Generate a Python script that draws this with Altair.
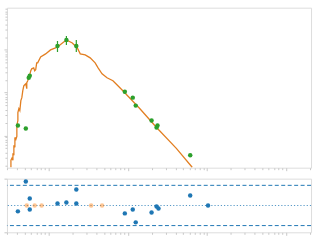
import altair as alt
import pandas as pd

# model curve (x: time, log; y: flux, log)
curve_x = [0.335, 0.335, 0.345, 0.355, 0.355, 0.365, 0.365, 0.376, 0.376, 0.387, 0.398, 0.398,
           0.41, 0.41, 0.422, 0.434, 0.447, 0.46, 0.473, 0.487, 0.501, 0.516, 0.531, 0.531,
           0.546, 0.562, 0.579, 0.596, 0.613, 0.649, 0.668, 0.688, 0.708, 0.729, 0.794, 0.917,
           1.059, 1.223, 1.296, 1.496, 1.679, 1.995, 2.304, 2.512, 2.9, 3.35, 3.87, 4.217,
           4.732, 5.464, 6.494, 7.29, 8.66, 14.13, 23.05, 40.97, 64.9]
curve_y = [0.18, 0.262, 0.292, 0.262, 0.381, 0.343, 0.585, 0.526, 0.898, 0.807, 0.948, 1.71,
           2.23, 3.43, 4.25, 3.81, 6.51, 7.65, 11.1, 14.5, 15.35, 16.2, 12.4, 17.1,
           19.0, 22.3, 26.2, 32.5, 36.1, 38.1, 32.5, 34.3, 49.9, 49.9, 68.7, 80.7,
           100.0, 111.3, 117.4, 145.5, 170.9, 145.5, 111.3, 80.7, 76.5, 65.2, 49.9, 38.1,
           27.7, 22.3, 19.0, 15.35, 11.1, 4.25, 1.535, 0.499, 0.18]

# observations
obs_x = [0.41, 0.516, 0.562, 0.579, 1.296, 1.679, 2.239, 9.17, 11.55, 12.59, 19.95, 23.05, 23.71, 61.3]
obs_y = [1.71, 1.455, 22.3, 24.9, 123.9, 170.9, 123.9, 10.55, 7.65, 4.98, 2.23, 1.535, 1.71, 0.343]
obs_lo = [1.65, 1.40, 20.8, 23.2, 89.8, 130.7, 89.8, 10.1, 7.3, 4.75, 2.12, 1.46, 1.63, 0.325]
obs_hi = [1.78, 1.51, 24.0, 26.7, 161.9, 211.6, 170.9, 11.0, 8.0, 5.2, 2.35, 1.61, 1.80, 0.362]

# residuals
res_x = [0.41, 0.516, 0.579, 0.579, 1.296, 1.679, 2.239, 2.239, 9.17, 11.55, 12.59, 19.95,
         23.05, 24.4, 61.3, 102.9]
res_y = [-0.44, 1.78, 0.52, -0.30, 0.15, 0.22, 1.19, 0.15, -0.59, -0.30, -1.26, -0.52,
         -0.07, -0.22, 0.74, 0.0]
lim_x = [0.531, 0.668, 0.818, 3.447, 4.732]
lim_y = [0.0, 0.0, 0.0, 0.0, 0.0]

band_lines = [-1.5, 1.5]
zero_line = [0.0]

x_ticks = [0.3, 0.4, 0.5, 0.6, 0.7, 0.8, 0.9, 1, 2, 3, 4, 5, 6, 7, 8, 9, 10,
           20, 30, 40, 50, 60, 70, 80, 90, 100, 200, 300, 400, 500, 600, 700, 800, 900, 1000, 2000]
y_ticks = [0.2, 0.3, 0.4, 0.5, 0.6, 0.7, 0.8, 0.9, 1, 2, 3, 4, 5, 6, 7, 8, 9, 10,
           20, 30, 40, 50, 60, 70, 80, 90, 100, 200, 300, 400, 500, 600, 700, 800, 900]
r_ticks = [-2, -1, 0, 1, 2]

GREY = "#c8c8c8"
major_test = "abs(log(datum.value)/LN10 - round(log(datum.value)/LN10)) < 0.001"
log_tick = {"condition": {"test": major_test, "value": 3}, "value": 2}

def log_axis(vals):
    return alt.Axis(labels=False, title=None, values=vals, tickSize=log_tick,
                    tickColor=GREY, tickWidth=1, domain=False, grid=False,
                    minExtent=0, maxExtent=4)

xscale = alt.Scale(type="log", domain=[0.2985, 2053], nice=False)
yscale = alt.Scale(type="log", domain=[0.1755, 973], nice=False)

curve = pd.DataFrame({"x": curve_x, "y": curve_y, "i": list(range(len(curve_x)))})
obs = pd.DataFrame({"x": obs_x, "y": obs_y, "lo": obs_lo, "hi": obs_hi})
res = pd.DataFrame({"x": res_x, "r": res_y})
lim = pd.DataFrame({"x": lim_x, "r": lim_y})

line = alt.Chart(curve).mark_line(color="#e27f22", strokeWidth=1.3, clip=True).encode(
    x=alt.X("x:Q", scale=xscale, axis=log_axis(x_ticks)),
    y=alt.Y("y:Q", scale=yscale, axis=log_axis(y_ticks)),
    order="i:Q",
)
err = alt.Chart(obs).mark_rule(color="#2ca02c", strokeWidth=1.2, clip=True).encode(
    x=alt.X("x:Q", scale=xscale), y=alt.Y("lo:Q", scale=yscale), y2="hi:Q"
)
pts = alt.Chart(obs).mark_circle(color="#2ca02c", size=20, opacity=1, clip=True).encode(
    x=alt.X("x:Q", scale=xscale), y=alt.Y("y:Q", scale=yscale)
)
top = alt.layer(line, err, pts).properties(width=306, height=161)

rscale = alt.Scale(domain=[-2, 2], nice=False)
raxis = alt.Axis(labels=False, title=None, values=r_ticks, tickSize=3, tickColor=GREY,
                 domain=False, grid=False, minExtent=0, maxExtent=4)
bands = alt.Chart(pd.DataFrame({"v": band_lines})).mark_rule(
    color="#1f77b4", strokeDash=[4, 2.5], strokeWidth=1).encode(
    y=alt.Y("v:Q", scale=rscale, axis=raxis))
zero = alt.Chart(pd.DataFrame({"v": zero_line})).mark_rule(
    color="#1f77b4", strokeDash=[1.2, 2], strokeWidth=1.1, opacity=0.75).encode(
    y=alt.Y("v:Q", scale=rscale))
limpts = alt.Chart(lim).mark_circle(color="#ff7f0e", size=20, opacity=0.45).encode(
    x=alt.X("x:Q", scale=xscale), y=alt.Y("r:Q", scale=rscale))
respts = alt.Chart(res).mark_circle(color="#1f77b4", size=20, opacity=1).encode(
    x=alt.X("x:Q", scale=xscale, axis=log_axis(x_ticks)), y=alt.Y("r:Q", scale=rscale))
bottom = alt.layer(respts, bands, zero, limpts).properties(width=306, height=54)

chart = alt.vconcat(top, bottom, spacing=6).properties(
    padding={"left": 3, "top": 6, "right": 7, "bottom": 3}
).configure_view(stroke="#c4c4c4", strokeWidth=2.2).configure(background="white")

chart.save("out.html", embed_options={"renderer": "svg", "actions": False})
